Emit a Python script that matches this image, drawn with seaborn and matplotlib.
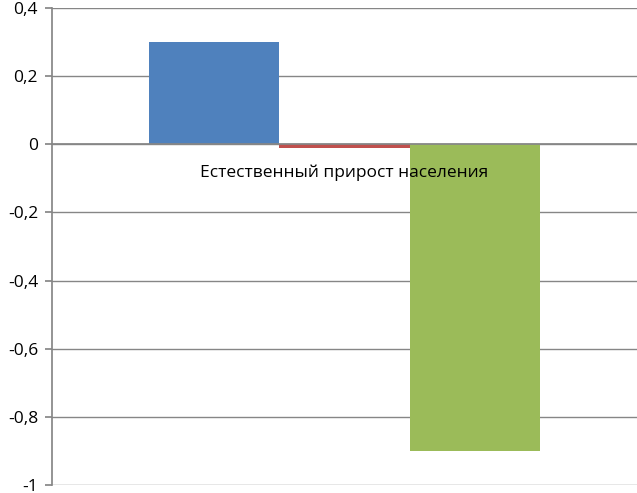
import pandas as pd
import matplotlib
matplotlib.use("Agg")
import matplotlib.pyplot as plt
from matplotlib.ticker import FuncFormatter, MultipleLocator
import seaborn as sns

# data
category = ["Естественный прирост населения"]
series = ["Ряд 1", "Ряд 2", "Ряд 3"]
values = [0.3, -0.01, -0.9]
colors = ["#4F81BD", "#C0504D", "#9BBB59"]

df = pd.DataFrame({
    "category": category * len(series),
    "series": series,
    "value": values,
})

sns.set_theme(style="white")
plt.rcParams["font.family"] = ["Open Sans", "DejaVu Sans"]

fig = plt.figure(figsize=(6.37, 4.93), dpi=100)
ax = fig.add_axes([52 / 637, 1 - 485 / 493, 1 - 52 / 637, (485 - 8) / 493])

sns.barplot(data=df, x="category", y="value", hue="series",
            palette=colors, width=0.668, saturation=1, legend=False,
            linewidth=0, ax=ax)

ax.set_xlim(-0.5, 0.5)
ax.set_ylim(-1, 0.4)
ax.yaxis.set_major_locator(MultipleLocator(0.2))
ax.yaxis.set_major_formatter(FuncFormatter(
    lambda v, _: ("%g" % round(v, 2)).replace(".", ",")))

grid_color = "#868686"
ax.grid(axis="y", color=grid_color, linewidth=1)
ax.set_axisbelow(True)

for side in ["top", "right"]:
    ax.spines[side].set_visible(False)
ax.spines["left"].set_color(grid_color)
ax.spines["bottom"].set_color(grid_color)
ax.spines["bottom"].set_position(("data", 0))

ax.tick_params(axis="y", left=True, length=5, color=grid_color,
               labelsize=12.5, pad=5, labelcolor="black")
ax.tick_params(axis="x", bottom=False, labelbottom=False)
ax.set_xlabel("")
ax.set_ylabel("")

# category label sits under the zero line, drawn above the bars
ax.annotate(category[0], xy=(0, 0), xytext=(0, -28),
            textcoords="offset pixels",
            ha="center", va="center", fontsize=12.5, color="black",
            zorder=10, annotation_clip=False)

fig.savefig("out.png", dpi=100)
